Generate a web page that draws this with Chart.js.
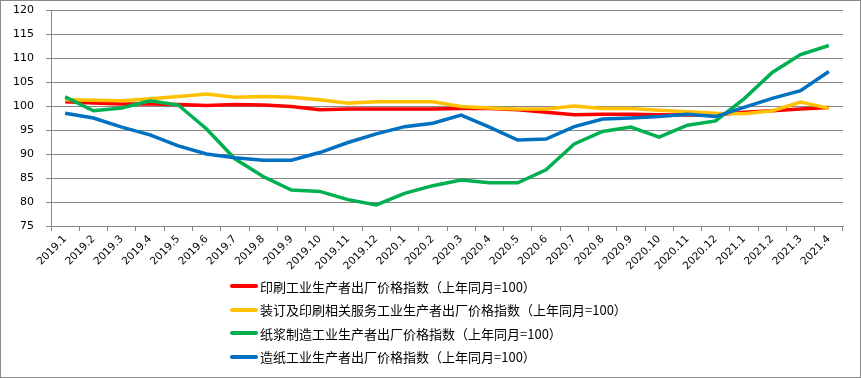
<!DOCTYPE html>
<html>
<head>
<meta charset="utf-8">
<script src="https://cdn.jsdelivr.net/npm/chart.js@4/dist/chart.umd.min.js"></script>
<style>
  html, body { margin: 0; padding: 0; background: #fff; }
  #wrap { position: relative; width: 861px; height: 378px; overflow: hidden; }
  #frame { position: absolute; left: 0; top: 0; width: 861px; height: 378px; box-sizing: border-box; border: 1px solid #8a8a8a; pointer-events: none; }
  #legend { position: absolute; left: 230px; top: 276px; font-family: "Noto Sans CJK SC", sans-serif; font-size: 13px; color: #000; }
  .item { position: absolute; left: 0; height: 20px; white-space: nowrap; display: flex; align-items: center; }
  .swatch { width: 28px; height: 4px; border-radius: 2px; margin-right: 2px; }
</style>
</head>
<body>
<div id="wrap">
  <canvas id="c" width="861" height="378"></canvas>
  <div id="legend"></div>
  <div id="frame"></div>
</div>
<script>
const categories = ["2019.1","2019.2","2019.3","2019.4","2019.5","2019.6","2019.7","2019.8","2019.9","2019.10","2019.11","2019.12",
  "2020.1","2020.2","2020.3","2020.4","2020.5","2020.6","2020.7","2020.8","2020.9","2020.10","2020.11","2020.12",
  "2021.1","2021.2","2021.3","2021.4"];

const seriesNames = [
  "印刷工业生产者出厂价格指数（上年同月=100）",
  "装订及印刷相关服务工业生产者出厂价格指数（上年同月=100）",
  "纸浆制造工业生产者出厂价格指数（上年同月=100）",
  "造纸工业生产者出厂价格指数（上年同月=100）"
];

const printing = [100.9,100.6,100.4,100.4,100.3,100.1,100.3,100.2,99.9,99.2,99.4,99.4,99.4,99.4,99.5,99.5,99.2,98.7,98.2,98.3,98.3,98.2,98.1,98.1,98.7,99.0,99.4,99.7];
const binding  = [101.3,101.2,101.1,101.5,102.0,102.5,101.8,102.0,101.8,101.3,100.6,100.9,100.9,100.9,99.9,99.6,99.4,99.4,100.0,99.5,99.5,99.1,98.8,98.5,98.4,99.0,100.8,99.5];
const pulp     = [101.9,99.0,99.6,101.1,100.2,95.2,89.0,85.3,82.5,82.2,80.5,79.4,81.8,83.4,84.6,84.0,84.0,86.7,92.1,94.7,95.6,93.5,96.0,96.9,101.5,107.0,110.7,112.6];
const paper    = [98.5,97.5,95.6,94.0,91.7,90.0,89.2,88.7,88.7,90.3,92.4,94.2,95.7,96.4,98.1,95.6,92.9,93.1,95.7,97.3,97.5,97.8,98.3,97.8,99.7,101.6,103.2,107.2];

const yTicks = [75,80,85,90,95,100,105,110,115,120];

const colors = ["#FF0000", "#FFC000", "#00B050", "#0070C0"];
const values = [printing, binding, pulp, paper];

const datasets = values.map((v, i) => ({
  label: seriesNames[i],
  data: v,
  borderColor: colors[i],
  backgroundColor: colors[i],
  borderWidth: 3.5,
  pointRadius: 0,
  tension: 0,
  fill: false,
  order: 3 - i
}));

const gridColor = "#878787";
const tickFont = { family: "DejaVu Sans", size: 10.5 };

new Chart(document.getElementById("c"), {
  type: "line",
  data: { labels: categories, datasets },
  options: {
    responsive: false,
    animation: false,
    devicePixelRatio: 1,
    layout: { padding: { left: 0, right: 18, top: 10, bottom: 0 } },
    plugins: { legend: { display: false }, tooltip: { enabled: false } },
    scales: {
      x: {
        offset: true,
        grid: { offset: true, drawOnChartArea: false, drawTicks: true, tickLength: 5, color: gridColor },
        border: { color: gridColor, width: 1 },
        ticks: { autoSkip: false, maxRotation: 45, minRotation: 45, color: "#000", font: tickFont, padding: 2 },
        afterFit: (s) => { s.height = 152; s.paddingLeft = 0; s.paddingRight = 0; }
      },
      y: {
        min: 75, max: 120,
        afterBuildTicks: (s) => { s.ticks = yTicks.map(v => ({ value: v })); },
        grid: { color: gridColor, tickLength: 5, drawTicks: true },
        border: { color: gridColor, width: 1 },
        ticks: { color: "#000", font: { family: "DejaVu Sans", size: 11 }, padding: 12 },
        afterFit: (s) => { s.width = 51; s.paddingTop = 0; s.paddingBottom = 0; }
      }
    }
  }
});

const legend = document.getElementById("legend");
const rowTops = [0, 23.5, 47, 70.5];
seriesNames.forEach((name, i) => {
  const item = document.createElement("div");
  item.className = "item";
  item.style.top = rowTops[i] + "px";
  const sw = document.createElement("span");
  sw.className = "swatch";
  sw.style.background = colors[i];
  const tx = document.createElement("span");
  tx.textContent = name;
  item.appendChild(sw);
  item.appendChild(tx);
  legend.appendChild(item);
});
</script>
</body>
</html>
